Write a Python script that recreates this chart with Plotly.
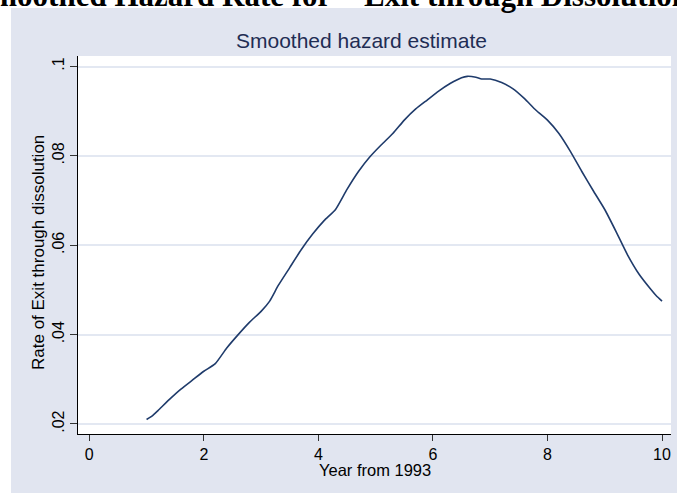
import plotly.graph_objects as go

# Data
years = [1.0, 1.1, 1.2, 1.4, 1.6, 1.8, 2.0, 2.2, 2.4, 2.6, 2.8, 3.0, 3.15, 3.3, 3.5, 3.7,
         3.9, 4.1, 4.3, 4.5, 4.7, 4.9, 5.1, 5.3, 5.5, 5.7, 5.9, 6.1, 6.3, 6.5, 6.6, 6.75,
         6.85, 7.0, 7.2, 7.4, 7.6, 7.8, 8.0, 8.2, 8.4, 8.6, 8.8, 9.0, 9.2, 9.4, 9.6, 9.8,
         9.9, 10.0]
hazard = [0.0210, 0.0218, 0.0230, 0.0255, 0.0278, 0.0298, 0.0318, 0.0335, 0.0370, 0.0400,
          0.0428, 0.0452, 0.0475, 0.0510, 0.0550, 0.0590, 0.0625, 0.0655, 0.0680, 0.0725,
          0.0765, 0.0798, 0.0825, 0.0850, 0.0880, 0.0905, 0.0925, 0.0945, 0.0962, 0.0975,
          0.0978, 0.0976, 0.0972, 0.0972, 0.0964, 0.0950, 0.0928, 0.0902, 0.0880, 0.0850,
          0.0810, 0.0765, 0.0722, 0.0680, 0.0630, 0.0578, 0.0535, 0.0502, 0.0487, 0.0475]

y_tickvals = [0.02, 0.04, 0.06, 0.08, 0.1]
y_ticktext = [".02", ".04", ".06", ".08", ".1"]
x_tickvals = [0, 2, 4, 6, 8, 10]

title_text = "Smoothed hazard estimate"
top_text = 'Smoothed Hazard Rate for&nbsp; "Exit through Dissolution"'
x_title = "Year from 1993"
y_title = "Rate of Exit through dissolution"

BG = "#E1E5F0"
LINE = "#1f3b6b"
FONT = "Liberation Sans, Arial, sans-serif"

W, H = 677, 493
ml, mr, mt, mb = 78, 6, 56, 59
pw, ph = W - ml - mr, H - mt - mb


def px(x):
    return (x - ml) / pw


def py(y):
    return (H - mb - y) / ph


fig = go.Figure()
fig.add_trace(go.Scatter(x=years, y=hazard, mode="lines",
                         line=dict(color=LINE, width=1.6, shape="spline", smoothing=0.5),
                         showlegend=False, hoverinfo="skip"))

fig.update_layout(
    width=W, height=H,
    margin=dict(l=ml, r=mr, t=mt, b=mb, pad=0),
    paper_bgcolor=BG, plot_bgcolor="white",
    font=dict(family=FONT, color="black", size=16),
    showlegend=False,
    xaxis=dict(range=[-0.197, 10.157], tickvals=x_tickvals, ticks="outside", ticklen=6,
               tickcolor="#333333", tickwidth=1, showline=True, linecolor="black", linewidth=1,
               showgrid=False, zeroline=False, tickfont=dict(size=16, family=FONT)),
    yaxis=dict(range=[0.01776, 0.10235], tickvals=y_tickvals, ticktext=y_ticktext,
               ticks="outside", ticklen=7, tickcolor="#333333", tickwidth=1, tickangle=-90,
               showline=True, linecolor="black", linewidth=1, showgrid=True,
               gridcolor="#E3E8F2", gridwidth=1.5, zeroline=False,
               tickfont=dict(size=16, family=FONT)),
    shapes=[
        dict(type="rect", xref="paper", yref="paper", x0=px(-5), x1=px(11), y0=py(H + 5), y1=py(-5),
             fillcolor="white", line=dict(width=0), layer="above"),
        dict(type="rect", xref="paper", yref="paper", x0=px(-5), x1=px(W + 5), y0=py(8), y1=py(-5),
             fillcolor="white", line=dict(width=0), layer="above"),
    ],
    annotations=[
        dict(text=title_text, xref="paper", yref="paper", x=px(361), y=py(40),
             xanchor="center", yanchor="middle", showarrow=False,
             font=dict(size=21, color="#1f2d54", family=FONT)),
        dict(text=x_title, xref="paper", yref="paper", x=px(375), y=py(470),
             xanchor="center", yanchor="middle", showarrow=False,
             font=dict(size=16.5, color="black", family=FONT)),
        dict(text=y_title, xref="paper", yref="paper", x=px(38), y=py(253), textangle=-90,
             xanchor="center", yanchor="middle", showarrow=False,
             font=dict(size=17, color="black", family=FONT)),
        dict(text="<b>" + top_text + "</b>", xref="paper", yref="paper", x=px(-28), y=py(-4),
             xanchor="left", yanchor="middle", showarrow=False,
             font=dict(size=31, color="black", family="Liberation Serif, Times New Roman, serif")),
    ],
)

fig.write_html("out.html", config={"displayModeBar": False},
               post_script="document.body.style.margin='0px';document.body.style.overflow='hidden';")
